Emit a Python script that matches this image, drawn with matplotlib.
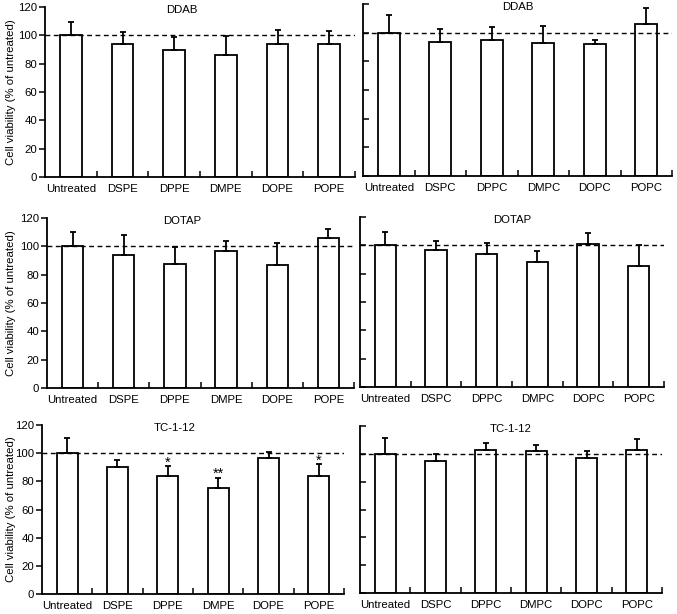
import matplotlib
matplotlib.use("Agg")
import matplotlib.pyplot as plt
import numpy as np

plt.rcParams['font.family'] = ['Liberation Sans', 'DejaVu Sans']

pe_labels = ["Untreated", "DSPE", "DPPE", "DMPE", "DOPE", "POPE"]
pc_labels = ["Untreated", "DSPC", "DPPC", "DMPC", "DOPC", "POPC"]

ddab_pe = [100, 93.7, 89.8, 86.2, 93.7, 93.7]
ddab_pe_err = [9.7, 8.5, 9.1, 13.4, 10.1, 9.4]
ddab_pc = [100, 93.5, 95.1, 93.0, 92.3, 106.3]
ddab_pc_err = [12.1, 9.1, 8.9, 11.7, 2.6, 10.8]

dotap_pe = [100, 94.0, 87.2, 96.9, 86.5, 105.6]
dotap_pe_err = [10.1, 14.0, 12.5, 6.6, 15.6, 6.6]
dotap_pc = [100, 96.7, 94.1, 88.2, 101.2, 85.6]
dotap_pc_err = [9.4, 6.6, 7.8, 7.8, 7.5, 14.4]

tc_pe = [100, 90.2, 83.9, 75.6, 96.8, 83.9]
tc_pe_err = [11.0, 5.2, 7.1, 7.1, 3.7, 8.5]
tc_pc = [100, 95.0, 102.4, 101.9, 97.1, 102.4]
tc_pc_err = [11.7, 5.0, 5.7, 4.8, 4.6, 7.9]
tc_pe_sig = ["", "", "*", "**", "", "*"]

W, H = 677, 614
fig = plt.figure(figsize=(W / 100, H / 100), dpi=100)


def rect(x0, x1, ytop, ybot):
    return [x0 / W, 1 - ybot / H, (x1 - x0) / W, (ybot - ytop) / H]


panels = [
    (rect(45, 355, 7, 177), "DDAB", pe_labels, ddab_pe, ddab_pe_err, None, True),
    (rect(363, 672, 4, 176), "DDAB", pc_labels, ddab_pc, ddab_pc_err, None, False),
    (rect(47, 354, 218, 388), "DOTAP", pe_labels, dotap_pe, dotap_pe_err, None, True),
    (rect(360, 664, 217, 387), "DOTAP", pc_labels, dotap_pc, dotap_pc_err, None, False),
    (rect(42, 344, 425, 594), "TC-1-12", pe_labels, tc_pe, tc_pe_err, tc_pe_sig, True),
    (rect(360, 662, 426, 593), "TC-1-12", pc_labels, tc_pc, tc_pc_err, None, False),
]

for r, title, labels, vals, errs, sig, left in panels:
    ax = fig.add_axes(r)
    x = np.arange(len(labels))
    ax.bar(x, vals, width=0.42, color="white", edgecolor="black", linewidth=1.3, zorder=2)
    ax.errorbar(x, vals, yerr=[np.zeros(len(vals)), errs], fmt="none", ecolor="black",
                elinewidth=1.3, capsize=2, capthick=1.3, zorder=3)
    ax.axhline(100, color="black", lw=1.0, ls=(0, (3.5, 2.5)), zorder=4)
    ax.set_xlim(-0.5, 5.5)
    ax.set_ylim(0, 120)
    ax.set_xticks(x)
    ax.set_xticklabels(labels, fontsize=8.2)
    ax.set_xticks(np.arange(0.5, 6.0, 1.0), minor=True)
    ax.tick_params(axis="x", which="major", length=0, pad=5)
    ax.tick_params(axis="x", which="minor", direction="in", length=4, width=1.1)
    ax.set_yticks(np.arange(0, 121, 20))
    if left:
        ax.tick_params(axis="y", direction="out", length=4, width=1.1, labelsize=8.2, pad=1.5)
        ax.set_ylabel("Cell viability (% of untreated)", fontsize=8.2)
        ax.yaxis.set_label_coords(16 / W, r[1] + r[3] / 2, transform=fig.transFigure)
    else:
        ax.tick_params(axis="y", direction="in", length=4, width=1.1, labelleft=False)
    for s in ["top", "right"]:
        ax.spines[s].set_visible(False)
    for s in ["left", "bottom"]:
        ax.spines[s].set_linewidth(1.3)
    tx = 0.44 if left else 0.5
    ax.text(tx, 118 / 120, title, transform=ax.transAxes, fontsize=8.2, ha="center", va="center")
    if sig:
        for xi, v, e, s in zip(x, vals, errs, sig):
            if s:
                ax.text(xi, v + e + 2.5, s, fontsize=10.5, ha="center", va="center")

fig.savefig("out.png", dpi=100)
